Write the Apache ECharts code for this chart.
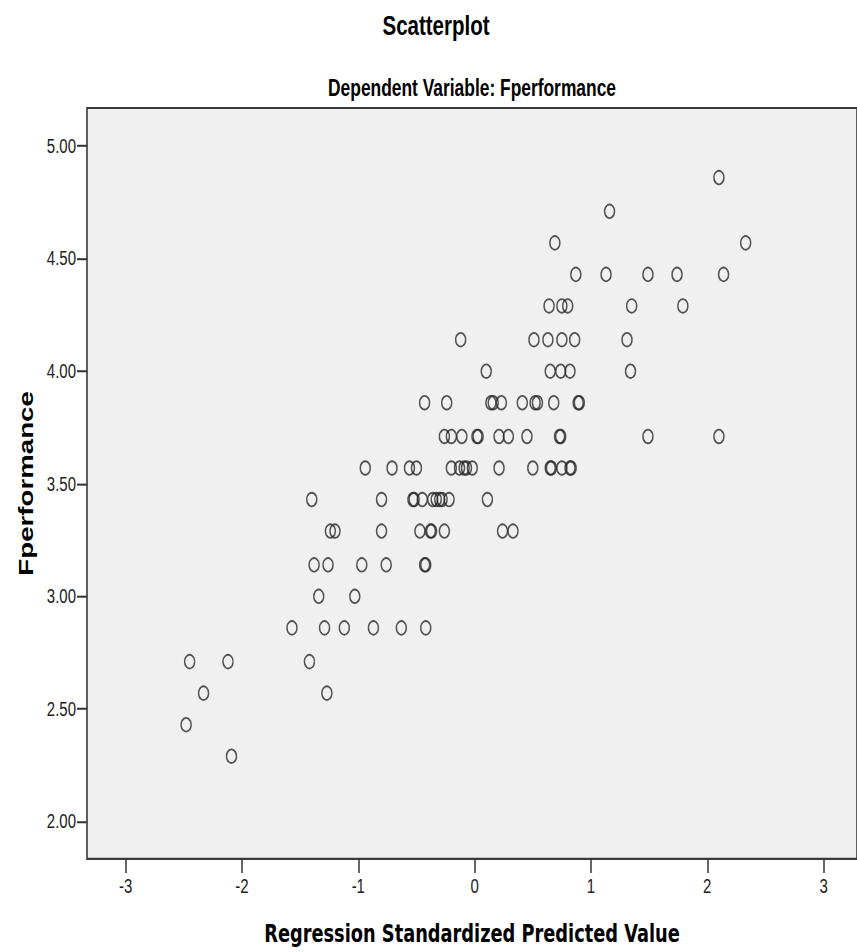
<!DOCTYPE html>
<html>
<head>
<meta charset="utf-8">
<script src="https://cdn.jsdelivr.net/npm/echarts@6/dist/echarts.min.js"></script>
<style>
  html, body { margin: 0; padding: 0; background: #ffffff; overflow: hidden; }
  #wrap { width: 857px; height: 952px; overflow: hidden; }
  #chart { width: 857px; transform-origin: 0 0; }
</style>
</head>
<body>
<div id="wrap"><div id="chart"></div></div>
<script>
// ---- Data ----
const titleText = 'Scatterplot';
const subtitleText = 'Dependent Variable: Fperformance';
const xAxisName = 'Regression Standardized Predicted Value';
const yAxisName = 'Fperformance';

const xTicks = [-3, -2, -1, 0, 1, 2, 3];
const yTicks = [2.0, 2.5, 3.0, 3.5, 4.0, 4.5, 5.0];

// Regression standardized predicted value (x) for each case
const predicted = [
  -2.09,
  -2.48,
  -2.33, -1.27,
  -2.45, -2.12, -1.42,
  -1.57, -1.29, -1.12, -0.87, -0.63, -0.42,
  -1.34, -1.03,
  -1.38, -1.26, -0.97, -0.76, -0.43, -0.42,
  -1.24, -1.20, -0.80, -0.47, -0.38, -0.37, -0.26, 0.24, 0.33,
  -1.40, -0.80, -0.53, -0.52, -0.45, -0.36, -0.33, -0.30, -0.28, -0.22, 0.11,
  -0.94, -0.71, -0.56, -0.50, -0.20, -0.13, -0.09, -0.07, -0.02, 0.21, 0.50, 0.65, 0.66, 0.75, 0.82, 0.83,
  -0.26, -0.20, -0.11, 0.02, 0.03, 0.21, 0.29, 0.45, 0.73, 0.74, 1.49, 2.10,
  -0.43, -0.24, 0.14, 0.16, 0.23, 0.41, 0.52, 0.54, 0.68, 0.89, 0.90,
  0.10, 0.65, 0.74, 0.82, 1.34,
  -0.12, 0.51, 0.63, 0.75, 0.86, 1.31,
  0.64, 0.75, 0.80, 1.35, 1.79,
  0.87, 1.13, 1.49, 1.74, 2.14,
  0.69, 2.33,
  1.16,
  2.10
];

// Fperformance (y) for each case
const performance = [
  2.29,
  2.43,
  2.57, 2.57,
  2.71, 2.71, 2.71,
  2.86, 2.86, 2.86, 2.86, 2.86, 2.86,
  3.00, 3.00,
  3.14, 3.14, 3.14, 3.14, 3.14, 3.14,
  3.29, 3.29, 3.29, 3.29, 3.29, 3.29, 3.29, 3.29, 3.29,
  3.43, 3.43, 3.43, 3.43, 3.43, 3.43, 3.43, 3.43, 3.43, 3.43, 3.43,
  3.57, 3.57, 3.57, 3.57, 3.57, 3.57, 3.57, 3.57, 3.57, 3.57, 3.57, 3.57, 3.57, 3.57, 3.57, 3.57,
  3.71, 3.71, 3.71, 3.71, 3.71, 3.71, 3.71, 3.71, 3.71, 3.71, 3.71, 3.71,
  3.86, 3.86, 3.86, 3.86, 3.86, 3.86, 3.86, 3.86, 3.86, 3.86, 3.86,
  4.00, 4.00, 4.00, 4.00, 4.00,
  4.14, 4.14, 4.14, 4.14, 4.14, 4.14,
  4.29, 4.29, 4.29, 4.29, 4.29,
  4.43, 4.43, 4.43, 4.43, 4.43,
  4.57, 4.57,
  4.71,
  4.86
];

// ---- Layout (the reference is vertically stretched; reproduce with a scaleY) ----
const K = 1.35;
const W = 857, H = 952 / K;
const el = document.getElementById('chart');
el.style.height = H + 'px';
el.style.transform = 'scaleY(' + K + ')';

const chart = echarts.init(el, null, { renderer: 'svg', width: W, height: H });

const points = predicted.map((x, i) => [x, performance[i]]);
const tickColor = '#333333';
const labelFont = 'Liberation Sans, Arial, sans-serif';

chart.setOption({
  animation: false,
  backgroundColor: '#ffffff',
  graphic: [
    {
      type: 'text', x: 436, y: 18.5,
      style: { text: titleText, textAlign: 'center', textVerticalAlign: 'middle',
               font: 'bold 20.5px Liberation Sans, Arial, sans-serif', fill: '#000' }
    },
    {
      type: 'text', x: 472, y: 65,
      style: { text: subtitleText, textAlign: 'center', textVerticalAlign: 'middle',
               font: 'bold 17.4px Liberation Sans, Arial, sans-serif', fill: '#000' }
    }
  ],
  grid: {
    left: 87, right: -2, top: 80, bottom: H - 636.3,
    show: true, backgroundColor: '#f0f0f0',
    borderColor: '#3a3a3a', borderWidth: 1.6
  },
  xAxis: {
    type: 'value',
    min: -3.332, max: 3.287,
    name: xAxisName,
    nameLocation: 'middle',
    nameGap: 46,
    nameTextStyle: { fontFamily: 'DejaVu Sans', fontWeight: 'bold', fontSize: 17.8, color: '#000' },
    axisLine: { show: false, onZero: false },
    axisTick: { show: true, inside: false, length: 10.4, customValues: xTicks,
                lineStyle: { color: tickColor, width: 1.5 } },
    axisLabel: { customValues: xTicks, margin: 13, fontSize: 15, color: '#222',
                 fontFamily: labelFont },
    splitLine: { show: false }
  },
  yAxis: {
    type: 'value',
    min: 1.834, max: 5.169,
    name: yAxisName,
    nameLocation: 'middle',
    nameGap: 50,
    nameTextStyle: { fontFamily: labelFont, fontWeight: 'bold', fontSize: 20.5, color: '#000' },
    axisLine: { show: false, onZero: false },
    axisTick: { show: true, inside: false, length: 10, customValues: yTicks,
                lineStyle: { color: tickColor, width: 1.5 } },
    axisLabel: { customValues: yTicks, margin: 11, fontSize: 15, color: '#222',
                 fontFamily: labelFont, formatter: v => Number(v).toFixed(2) },
    splitLine: { show: false }
  },
  series: [{
    type: 'scatter',
    data: points,
    symbol: 'circle',
    symbolSize: 10,
    silent: true,
    itemStyle: { color: 'rgba(0,0,0,0)', borderColor: '#2b2b2b', borderWidth: 1.4 }
  }]
});
</script>
</body>
</html>
